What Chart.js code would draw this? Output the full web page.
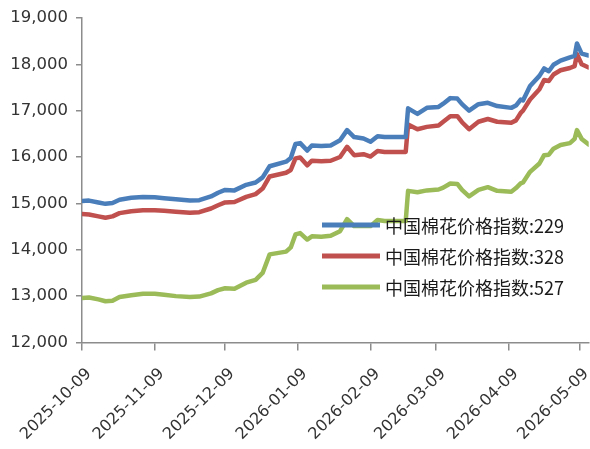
<!DOCTYPE html>
<html>
<head>
<meta charset="utf-8">
<script src="https://cdn.jsdelivr.net/npm/chart.js@4.4.1/dist/chart.umd.min.js"></script>
<style>
  html, body { margin: 0; padding: 0; background: #ffffff; }
  #wrap { width: 590px; height: 449px; position: relative; }
</style>
</head>
<body>
<div id="wrap"><canvas id="c" width="590" height="449"></canvas></div>
<script>
// Observation dates (calendar days; the axis is a date axis)
const dates = [
  '2025-10-09','2025-10-12','2025-10-16','2025-10-19','2025-10-22','2025-10-25','2025-10-30',
  '2025-11-04','2025-11-09','2025-11-13','2025-11-18','2025-11-24','2025-11-28',
  '2025-12-03','2025-12-06','2025-12-09','2025-12-13','2025-12-18','2025-12-22','2025-12-25','2025-12-28',
  '2026-01-04','2026-01-06','2026-01-08','2026-01-10','2026-01-13','2026-01-15','2026-01-19',
  '2026-01-23','2026-01-27','2026-01-30',
  '2026-02-02','2026-02-06','2026-02-09','2026-02-12','2026-02-15','2026-02-24','2026-02-25',
  '2026-03-01','2026-03-05','2026-03-10','2026-03-12','2026-03-15','2026-03-18','2026-03-20',
  '2026-03-23','2026-03-27','2026-03-31',
  '2026-04-04','2026-04-10','2026-04-12','2026-04-14','2026-04-15','2026-04-18','2026-04-22',
  '2026-04-24','2026-04-26','2026-04-28',
  '2026-05-01','2026-05-05','2026-05-07','2026-05-08','2026-05-10','2026-05-13'
];

// 中国棉花价格指数:229
const idx229 = [
  15050,15060,15020,14990,15010,15080,15120,
  15140,15130,15110,15090,15060,15070,
  15150,15230,15290,15280,15400,15450,15560,15800,
  15900,15980,16280,16300,16140,16250,16240,
  16250,16360,16580,
  16430,16400,16330,16450,16430,16430,17050,
  16930,17060,17080,17150,17270,17260,17140,
  17000,17140,17170,
  17100,17060,17110,17240,17220,17530,17750,
  17910,17850,17990,
  18080,18150,18180,18450,18230,18190
];

// 中国棉花价格指数:328
const idx328 = [
  14770,14760,14720,14690,14720,14790,14830,
  14850,14850,14840,14820,14800,14810,
  14890,14960,15020,15030,15140,15200,15320,15580,
  15660,15720,15970,15990,15820,15920,15910,
  15920,16000,16220,
  16040,16060,16010,16130,16110,16110,16700,
  16600,16650,16680,16760,16880,16880,16750,
  16600,16760,16820,
  16760,16740,16790,16950,17000,17240,17460,
  17660,17640,17780,
  17870,17920,17960,18220,18000,17930
];

// 中国棉花价格指数:527
const idx527 = [
  12960,12970,12930,12890,12900,12980,13020,
  13050,13050,13030,13000,12980,12990,
  13060,13130,13170,13160,13290,13350,13500,13900,
  13960,14050,14330,14360,14220,14290,14280,
  14300,14400,14660,
  14510,14520,14510,14640,14620,14620,15270,
  15240,15280,15300,15340,15430,15420,15290,
  15150,15290,15350,
  15270,15250,15330,15430,15450,15680,15860,
  16040,16050,16180,
  16260,16300,16390,16580,16390,16270
];

const seriesNames = ['中国棉花价格指数:229', '中国棉花价格指数:328', '中国棉花价格指数:527'];
const seriesColors = ['#4a7ebb', '#c0504d', '#9bbb59'];

// Monthly tick labels and axis range
const tickLabels = ['2025-10-09','2025-11-09','2025-12-09','2026-01-09','2026-02-09','2026-03-09','2026-04-09','2026-05-09'];
const axisStart = '2025-10-09';
const axisEnd = '2026-05-13';

const yMin = 12000, yMax = 19000, yStep = 1000;

function dayOf(s) {
  const [y, m, d] = s.split('-').map(Number);
  const [y0, m0, d0] = axisStart.split('-').map(Number);
  return Math.round((Date.UTC(y, m - 1, d) - Date.UTC(y0, m0 - 1, d0)) / 86400000);
}

const labelByDay = {};
tickLabels.forEach(s => { labelByDay[dayOf(s)] = s; });

function toPoints(values) {
  return values.map((v, i) => ({ x: dayOf(dates[i]), y: v }));
}

const seriesValues = [idx229, idx328, idx527];
const datasets = seriesValues.map((vals, i) => ({
  label: seriesNames[i],
  data: toPoints(vals),
  borderColor: seriesColors[i],
  backgroundColor: seriesColors[i],
  borderWidth: 4.5,
  pointRadius: 0,
  tension: 0,
  borderJoinStyle: 'round',
  borderCapStyle: 'round',
  fill: false
}));

// Legend drawn inside the plot area, to the lower right
const insideLegend = {
  id: 'insideLegend',
  afterDatasetsDraw(chart, args, opts) {
    const ctx = chart.ctx;
    ctx.save();
    chart.data.datasets.forEach((ds, i) => {
      const y = opts.top + i * opts.rowGap;
      ctx.strokeStyle = ds.borderColor;
      ctx.lineWidth = opts.lineWidth;
      ctx.lineCap = 'butt';
      ctx.beginPath();
      ctx.moveTo(opts.left, y);
      ctx.lineTo(opts.left + opts.lineLen, y);
      ctx.stroke();
      ctx.fillStyle = opts.color;
      ctx.font = opts.font;
      ctx.textBaseline = 'middle';
      ctx.textAlign = 'left';
      ctx.fillText(ds.label, opts.left + opts.lineLen + opts.gap, y + 1);
    });
    ctx.restore();
  }
};

const axisGray = '#8c8c8c';
const yTickFont = { family: 'DejaVu Sans', size: 16.5 };
const xTickFont = { family: 'DejaVu Sans', size: 16 };

new Chart(document.getElementById('c'), {
  type: 'line',
  data: { datasets },
  options: {
    responsive: false,
    devicePixelRatio: 1,
    animation: false,
    layout: { padding: { top: 14.5, right: 1.3, left: 0, bottom: 0 } },
    plugins: {
      legend: { display: false },
      tooltip: { enabled: false },
      insideLegend: {
        left: 322, lineLen: 58, gap: 5, top: 225, rowGap: 31,
        lineWidth: 5, color: '#1a1a1a',
        font: '18px "Noto Sans CJK SC"'
      }
    },
    scales: {
      x: {
        type: 'linear',
        min: 0,
        max: dayOf(axisEnd),
        afterBuildTicks: (axis) => {
          axis.ticks = tickLabels.map(s => ({ value: dayOf(s) }));
        },
        afterFit: (scale) => {
          scale.height = 106.5;
          scale.paddingRight = 0;
          scale.paddingLeft = 0;
        },
        grid: { drawOnChartArea: false, drawTicks: true, tickLength: 8, color: axisGray, lineWidth: 1.5 },
        border: { display: true, color: axisGray, width: 1.5 },
        ticks: {
          autoSkip: false,
          minRotation: 45,
          maxRotation: 45,
          padding: 14,
          labelOffset: 7,
          color: '#333333',
          font: xTickFont,
          callback: (v) => labelByDay[v] || ''
        }
      },
      y: {
        type: 'linear',
        min: yMin,
        max: yMax,
        afterFit: (scale) => { scale.width = 82; },
        grid: { drawOnChartArea: false, drawTicks: true, tickLength: 6, color: axisGray, lineWidth: 1.5 },
        border: { display: true, color: axisGray, width: 1.5 },
        ticks: {
          stepSize: yStep,
          padding: 8,
          color: '#333333',
          font: yTickFont,
          callback: (v) => Number(v).toLocaleString('en-US')
        }
      }
    }
  },
  plugins: [insideLegend]
});
</script>
</body>
</html>
